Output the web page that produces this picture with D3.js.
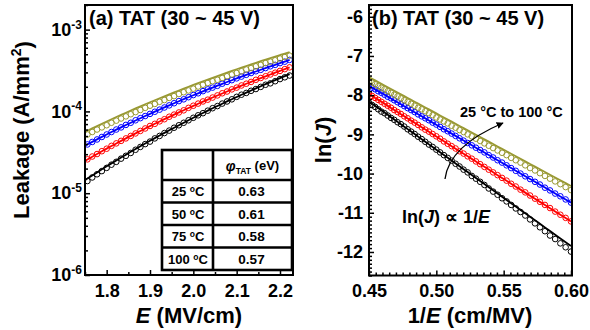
<!DOCTYPE html>
<html><head><meta charset="utf-8">
<script src="https://cdn.jsdelivr.net/npm/d3@7"></script>
<style>
body{margin:0;background:#fff}
svg{display:block;font-family:"Liberation Sans",Arial,sans-serif;font-weight:bold}
</style>
</head><body>
<svg id="c" width="590" height="330"></svg>
<script>
// ---------- data ----------
const temps = ["25", "50", "75", "100"];
const colors = ["#000000", "#ff0000", "#0000ff", "#999933"];
const phiTAT = ["0.63", "0.61", "0.58", "0.57"];

// electric field (MV/cm) of each measured point
const fieldE = [1.6667,1.6778,1.6889,1.7000,1.7111,1.7222,1.7333,1.7444,1.7556,1.7667,1.7778,1.7889,1.8000,1.8111,1.8222,1.8333,1.8444,1.8556,1.8667,1.8778,1.8889,1.9000,1.9111,1.9222,1.9333,1.9444,1.9556,1.9667,1.9778,1.9889,2.0000,2.0111,2.0222,2.0333,2.0444,2.0556,2.0667,2.0778,2.0889,2.1000,2.1111,2.1222,2.1333,2.1444,2.1556,2.1667,2.1778,2.1889,2.2000,2.2111,2.2222];

// measured ln(J) for each temperature, same order as fieldE
const lnJ25 = [-11.99,-11.88,-11.78,-11.67,-11.58,-11.47,-11.37,-11.27,-11.17,-11.07,-10.98,-10.89,-10.80,-10.71,-10.63,-10.54,-10.46,-10.38,-10.29,-10.21,-10.13,-10.06,-9.97,-9.90,-9.82,-9.75,-9.67,-9.60,-9.53,-9.46,-9.39,-9.32,-9.26,-9.19,-9.12,-9.06,-8.99,-8.93,-8.87,-8.80,-8.74,-8.69,-8.63,-8.58,-8.52,-8.46,-8.42,-8.36,-8.30,-8.25,-8.20];
const lnJ50 = [-11.22,-11.13,-11.05,-10.97,-10.88,-10.80,-10.72,-10.64,-10.56,-10.48,-10.41,-10.33,-10.26,-10.18,-10.11,-10.04,-9.97,-9.90,-9.83,-9.76,-9.69,-9.62,-9.56,-9.49,-9.43,-9.36,-9.30,-9.24,-9.18,-9.11,-9.05,-8.99,-8.93,-8.88,-8.82,-8.76,-8.70,-8.65,-8.59,-8.54,-8.48,-8.43,-8.38,-8.32,-8.27,-8.22,-8.17,-8.12,-8.07,-8.02,-7.97];
const lnJ75 = [-10.74,-10.66,-10.58,-10.51,-10.43,-10.36,-10.28,-10.21,-10.14,-10.07,-10.00,-9.93,-9.86,-9.79,-9.72,-9.66,-9.59,-9.53,-9.46,-9.40,-9.34,-9.28,-9.22,-9.16,-9.10,-9.04,-8.98,-8.92,-8.87,-8.81,-8.75,-8.70,-8.64,-8.59,-8.54,-8.49,-8.43,-8.38,-8.33,-8.28,-8.23,-8.18,-8.13,-8.08,-8.04,-7.99,-7.94,-7.90,-7.85,-7.81,-7.76];
const lnJ100 = [-10.42,-10.345,-10.27,-10.20,-10.13,-10.06,-9.99,-9.92,-9.86,-9.79,-9.72,-9.66,-9.60,-9.53,-9.47,-9.41,-9.35,-9.29,-9.23,-9.17,-9.11,-9.05,-9.00,-8.94,-8.89,-8.83,-8.78,-8.72,-8.67,-8.62,-8.57,-8.51,-8.46,-8.41,-8.36,-8.32,-8.27,-8.22,-8.17,-8.13,-8.08,-8.03,-7.99,-7.94,-7.90,-7.85,-7.81,-7.77,-7.72,-7.68,-7.64];

// TAT fits: ln(J) = intercept + slope * (1/E)
const fitSlope = [-24.6, -21.67, -19.87, -18.53];
const fitIntercept = [2.91, 1.78, 1.18, 0.80];

const leftXTicks = [1.8, 1.9, 2.0, 2.1, 2.2];
const leftXMinor = [1.75, 1.85, 1.95, 2.05, 2.15];
const leftYTicks = [1e-6, 1e-5, 1e-4, 1e-3];
const rightXTicks = [0.45, 0.50, 0.55, 0.60];
const rightYTicks = [-12, -11, -10, -9, -8, -7, -6];

const seriesLn = [lnJ25, lnJ50, lnJ75, lnJ100];

// ---------- drawing ----------
const svg = d3.select("#c");
const FONT = '"Liberation Sans",Arial,sans-serif';
const TICKFS = 18;

function styleAxis(g, size) {
  g.attr("font-family", FONT).attr("font-size", size).attr("font-weight", "bold");
  g.select(".domain").remove();
  g.selectAll(".tick line").attr("stroke-width", 1.5);
}

// ===== Left panel =====
const xL = d3.scaleLinear().domain([1.75, 2.23]).range([85, 293]);
const yL = d3.scaleLog().domain([1e-6, 2e-3]).range([275, 5]);

svg.append("clipPath").attr("id", "clipL").append("rect")
  .attr("x", 85).attr("y", 5).attr("width", 208).attr("height", 270);

const gL = svg.append("g").attr("clip-path", "url(#clipL)");
seriesLn.forEach((arr, s) => {
  const pts = fieldE.map((E, i) => [E, Math.exp(arr[i])]);
  gL.append("g").selectAll("circle").data(pts).join("circle")
    .attr("cx", d => xL(d[0])).attr("cy", d => yL(d[1])).attr("r", 2.8)
    .attr("fill", "none").attr("stroke", colors[s]).attr("stroke-width", 1);
});
seriesLn.forEach((arr, s) => {
  const pts = fieldE.map(E => [E, Math.exp(fitIntercept[s] + fitSlope[s] / E)]);
  gL.append("path").datum(pts)
    .attr("d", d3.line().x(d => xL(d[0])).y(d => yL(d[1])).curve(d3.curveMonotoneX))
    .attr("fill", "none").attr("stroke", colors[s]).attr("stroke-width", 1.8);
});

// axes left
const axLB = svg.append("g").attr("transform", "translate(0,275)")
  .call(d3.axisBottom(xL).tickValues(leftXTicks).tickSize(-5).tickPadding(9).tickFormat(d3.format(".1f")));
styleAxis(axLB, TICKFS);
const axLBm = svg.append("g").attr("transform", "translate(0,275)")
  .call(d3.axisBottom(xL).tickValues(leftXMinor).tickSize(-3).tickFormat(""));
styleAxis(axLBm, TICKFS);

const axLL = svg.append("g").attr("transform", "translate(85,0)")
  .call(d3.axisLeft(yL).tickValues(leftYTicks).tickSize(-5).tickPadding(3).tickFormat(""));
styleAxis(axLL, TICKFS);
axLL.selectAll(".tick text").each(function(d) {
  const t = d3.select(this);
  t.text("");
  t.append("tspan").text("10");
  t.append("tspan").attr("font-size", 12).attr("dy", "-0.6em").text(String(Math.round(Math.log10(d))));
});
const minorLog = [];
for (let e = -6; e <= -3; e++) for (let k = 2; k <= 9; k++) {
  const v = k * Math.pow(10, e);
  if (v <= 2e-3) minorLog.push(v);
}
const axLLm = svg.append("g").attr("transform", "translate(85,0)")
  .call(d3.axisLeft(yL).tickValues(minorLog).tickSize(-3).tickFormat(""));
styleAxis(axLLm, TICKFS);

svg.append("rect").attr("x", 85).attr("y", 5).attr("width", 208).attr("height", 270)
  .attr("fill", "none").attr("stroke", "#000").attr("stroke-width", 2);

// table
const tb = svg.append("g");
const tX0 = 162, tX1 = 292, tXm = 213, tY0 = 150, tYh = 180, tY1 = 270;
const rowH = (tY1 - tYh) / temps.length;
tb.append("rect").attr("x", tX0).attr("y", tY0).attr("width", tX1 - tX0).attr("height", tY1 - tY0)
  .attr("fill", "#fff").attr("stroke", "#000").attr("stroke-width", 2.6);
tb.append("line").attr("x1", tXm).attr("x2", tXm).attr("y1", tY0).attr("y2", tY1)
  .attr("stroke", "#000").attr("stroke-width", 2.6);
temps.forEach((t, i) => {
  const y = tYh + i * rowH;
  tb.append("line").attr("x1", tX0).attr("x2", tX1).attr("y1", y).attr("y2", y)
    .attr("stroke", "#000").attr("stroke-width", 2.6);
  const lt = tb.append("text").attr("x", (tX0 + tXm) / 2 + 0.5).attr("y", y + rowH / 2 + 5)
    .attr("text-anchor", "middle").attr("font-size", 13);
  lt.append("tspan").text(t + " ");
  lt.append("tspan").attr("font-size", 8.5).attr("dy", "-0.5em").text("o");
  lt.append("tspan").attr("dy", "0.33em").text("C");
  tb.append("text").attr("x", (tXm + tX1) / 2 - 1).attr("y", y + rowH / 2 + 5)
    .attr("text-anchor", "middle").attr("font-size", 13.5).text(phiTAT[i]);
});
const hd = tb.append("text").attr("x", (tXm + tX1) / 2).attr("y", (tY0 + tYh) / 2 + 6)
  .attr("text-anchor", "middle").attr("font-size", 13);
hd.append("tspan").attr("font-style", "italic").attr("font-size", 14).text("φ");
hd.append("tspan").attr("font-size", 8.5).attr("dy", "0.3em").text("TAT");
hd.append("tspan").attr("dy", "-0.3em").text(" (eV)");

// titles / labels left
svg.append("text").attr("x", 89).attr("y", 25).attr("font-size", 20).text("(a) TAT (30 ~ 45 V)");
const ylab = svg.append("text").attr("transform", "translate(29,130) rotate(-90)")
  .attr("text-anchor", "middle").attr("font-size", 22);
ylab.append("tspan").text("Leakage (A/mm");
ylab.append("tspan").attr("font-size", 14).attr("dy", "-0.55em").text("2");
ylab.append("tspan").attr("dy", "0.45em").text(")");
const xlab = svg.append("text").attr("x", 189).attr("y", 323).attr("text-anchor", "middle").attr("font-size", 22);
xlab.append("tspan").attr("font-style", "italic").text("E");
xlab.append("tspan").text(" (MV/cm)");

// ===== Right panel =====
const xR = d3.scaleLinear().domain([0.45, 0.60]).range([369, 571]);
const yR = d3.scaleLinear().domain([-12.6, -5.7]).range([275.5, 5]);

svg.append("clipPath").attr("id", "clipR").append("rect")
  .attr("x", 369).attr("y", 5).attr("width", 203).attr("height", 270.5);
const gR = svg.append("g").attr("clip-path", "url(#clipR)");
seriesLn.forEach((arr, s) => {
  const pts = fieldE.map((E, i) => [1 / E, arr[i]]);
  gR.append("g").selectAll("circle").data(pts).join("circle")
    .attr("cx", d => xR(d[0])).attr("cy", d => yR(d[1])).attr("r", 2.8)
    .attr("fill", "none").attr("stroke", colors[s]).attr("stroke-width", 1);
});
seriesLn.forEach((arr, s) => {
  const pts = fieldE.map(E => [1 / E, fitIntercept[s] + fitSlope[s] / E]);
  gR.append("path").datum(pts)
    .attr("d", d3.line().x(d => xR(d[0])).y(d => yR(d[1])))
    .attr("fill", "none").attr("stroke", colors[s]).attr("stroke-width", 1.8);
});

const axRB = svg.append("g").attr("transform", "translate(0,275.5)")
  .call(d3.axisBottom(xR).tickValues(rightXTicks).tickSize(-5).tickPadding(9).tickFormat(d3.format(".2f")));
styleAxis(axRB, TICKFS);
const rxMinor = d3.range(0, 31).map(i => 0.45 + i * 0.005).filter((v, i) => i % 10 !== 0);
const axRBm = svg.append("g").attr("transform", "translate(0,275.5)")
  .call(d3.axisBottom(xR).tickValues(rxMinor).tickSize(-3).tickFormat(""));
styleAxis(axRBm, TICKFS);
const axRL = svg.append("g").attr("transform", "translate(369,0)")
  .call(d3.axisLeft(yR).tickValues(rightYTicks).tickSize(-5).tickPadding(6).tickFormat(d => String(d)));
styleAxis(axRL, TICKFS);
const ryMinor = d3.range(0, 70).map(i => -12.6 + i * 0.1).filter(v => Math.abs(v - Math.round(v)) > 0.01);
const axRLm = svg.append("g").attr("transform", "translate(369,0)")
  .call(d3.axisLeft(yR).tickValues(ryMinor).tickSize(-3).tickFormat(""));
styleAxis(axRLm, TICKFS);

svg.append("rect").attr("x", 369).attr("y", 5).attr("width", 203).attr("height", 270.5)
  .attr("fill", "none").attr("stroke", "#000").attr("stroke-width", 2);

svg.append("text").attr("x", 372).attr("y", 25).attr("font-size", 20).text("(b) TAT (30 ~ 45 V)");
const ylabR = svg.append("text").attr("transform", "translate(331,140) rotate(-90)")
  .attr("text-anchor", "middle").attr("font-size", 22);
ylabR.append("tspan").text("ln(");
ylabR.append("tspan").attr("font-style", "italic").text("J");
ylabR.append("tspan").text(")");
const xlabR = svg.append("text").attr("x", 470).attr("y", 323).attr("text-anchor", "middle").attr("font-size", 22);
xlabR.append("tspan").text("1/");
xlabR.append("tspan").attr("font-style", "italic").text("E");
xlabR.append("tspan").text(" (cm/MV)");

// annotations
svg.append("text").attr("x", 460).attr("y", 117).attr("font-size", 14.5).text("25 °C to 100 °C");
svg.append("defs").append("marker").attr("id", "ah").attr("viewBox", "0 0 10 10")
  .attr("refX", 9).attr("refY", 5).attr("markerWidth", 7).attr("markerHeight", 7)
  .attr("markerUnits", "userSpaceOnUse").attr("orient", "auto")
  .append("path").attr("d", "M0,0 L10,5 L0,10 z").attr("fill", "#000");
svg.append("path").attr("d", "M445,179 Q449,146 503,123").attr("fill", "none")
  .attr("stroke", "#000").attr("stroke-width", 1.3).attr("marker-end", "url(#ah)");
const prop = svg.append("text").attr("x", 402).attr("y", 223).attr("font-size", 18);
prop.append("tspan").text("ln(");
prop.append("tspan").attr("font-style", "italic").text("J");
prop.append("tspan").text(") ∝ 1/");
prop.append("tspan").attr("font-style", "italic").text("E");
</script>
</body></html>
